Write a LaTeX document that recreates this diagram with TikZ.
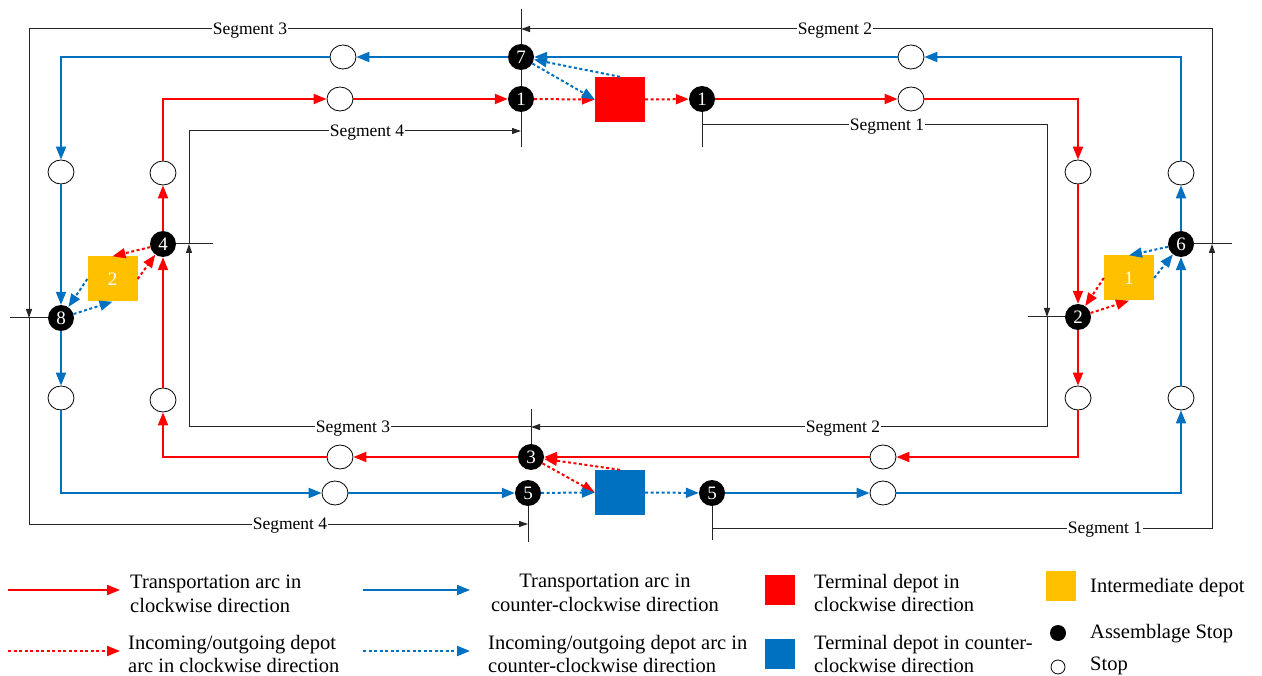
\documentclass[tikz,border=0pt]{standalone}
\usepackage{fontspec}
\setmainfont{Liberation Serif}
\usetikzlibrary{arrows.meta,shapes.geometric}
\definecolor{cwred}{RGB}{255,0,0}
\definecolor{ccwblue}{RGB}{0,112,192}
\definecolor{midyellow}{RGB}{255,192,0}

\begin{document}
\begin{tikzpicture}[x=1pt,y=-1pt,
  asm/.style={circle,fill=black,text=white,minimum size=26pt,inner sep=0pt,font=\fontsize{19}{19}\selectfont},
  stop/.style={ellipse,draw=black,fill=white,line width=0.8pt,minimum width=26pt,minimum height=24pt,inner sep=0pt},
  depot/.style={rectangle,minimum width=50pt,minimum height=45pt,inner sep=0pt,text=white,font=\fontsize{19}{19}\selectfont},
  segline/.style={draw=black!85,line width=1pt},
  segarrow/.style={segline,-{Triangle[length=9pt,width=6pt]}},
  seglabel/.style={fill=white,inner sep=1pt,font=\fontsize{17.5}{18}\selectfont,yshift=-1.5pt},
  redarc/.style={draw=cwred,line width=2pt,-{Triangle[length=13pt,width=10pt]}},
  bluearc/.style={draw=ccwblue,line width=2pt,-{Triangle[length=13pt,width=10pt]}},
  reddot/.style={redarc,dash pattern=on 3pt off 2.5pt},
  bluedot/.style={bluearc,dash pattern=on 3pt off 2.5pt},
  legtext/.style={font=\fontsize{20.5}{23.5}\selectfont,inner sep=0pt}
]
\useasboundingbox (0,0) rectangle (1262,676);
\fill[white] (0,0) rectangle (1262,676);

% ---------- segment boundary ticks ----------
\coordinate (tT1) at (521,9);   \coordinate (tT2) at (521,147);
\coordinate (tTr1) at (702,99); \coordinate (tTr2) at (702,147);
\coordinate (tB1) at (531,409); \coordinate (tB2) at (531,457);
\coordinate (tB3) at (528,493); \coordinate (tB4) at (528,542);
\coordinate (tBr1) at (712,493);\coordinate (tBr2) at (712,540);
\coordinate (tL1) at (10,318);  \coordinate (tL2) at (61,318);
\coordinate (tLi1) at (163,244);\coordinate (tLi2) at (213,244);
\coordinate (tRi1) at (1028,317);\coordinate (tRi2) at (1078,317);
\coordinate (tRo1) at (1181,244);\coordinate (tRo2) at (1232,244);
\draw[segline] (tT1) -- (tT2);
\draw[segline] (tTr1) -- (tTr2);
\draw[segline] (tB1) -- (tB2);
\draw[segline] (tB3) -- (tB4);
\draw[segline] (tBr1) -- (tBr2);
\draw[segline] (tL1) -- (tL2);
\draw[segline] (tLi1) -- (tLi2);
\draw[segline] (tRi1) -- (tRi2);
\draw[segline] (tRo1) -- (tRo2);

% ---------- outer segments (counter-clockwise ring) ----------
\coordinate (oR) at (1212,244);  \coordinate (oTR) at (1212,29);
\coordinate (oT) at (521,29);    \coordinate (oTL) at (29,29);
\coordinate (oL) at (29,318);    \coordinate (oBL) at (29,524);
\coordinate (oBm) at (528,524);  \coordinate (oBs) at (712,528);
\coordinate (oBR) at (1212,528);
\draw[segarrow] (oR) -- (oTR) -- (oT);
\draw[segarrow] (oT) -- (oTL) -- (oL);
\draw[segarrow] (oL) -- (oBL) -- (oBm);
\draw[segarrow] (oBs) -- (oBR) -- (oR);
\node[seglabel] (lo2) at (835,29) {Segment 2};
\node[seglabel] (lo3) at (250,29) {Segment 3};
\node[seglabel] (lo4) at (290,524) {Segment 4};
\node[seglabel] (lo1) at (1105,528) {Segment 1};

% ---------- inner segments (clockwise ring) ----------
\coordinate (iTs) at (702,125);  \coordinate (iTR) at (1047,125);
\coordinate (iR) at (1047,317);  \coordinate (iBR) at (1047,427);
\coordinate (iB) at (531,427);   \coordinate (iBL) at (189,427);
\coordinate (iL) at (189,244);   \coordinate (iTL) at (189,131);
\coordinate (iT) at (521,131);
\draw[segarrow] (iTs) -- (iTR) -- (iR);
\draw[segarrow] (iR) -- (iBR) -- (iB);
\draw[segarrow] (iB) -- (iBL) -- (iL);
\draw[segarrow] (iL) -- (iTL) -- (iT);
\node[seglabel] (li1) at (887,125) {Segment 1};
\node[seglabel] (li2) at (843,427) {Segment 2};
\node[seglabel] (li3) at (353,427) {Segment 3};
\node[seglabel] (li4) at (367,131) {Segment 4};

% ---------- depots ----------
\node[depot,fill=cwred] (Dred) at (620,99.5) {};
\node[depot,fill=ccwblue] (Dblue) at (620,492.5) {};
\node[depot,fill=midyellow] (Y2) at (112.5,279) {2};
\node[depot,fill=midyellow] (Y1) at (1129,278) {1};

% ---------- assemblage stops ----------
\node[asm] (A1) at (521,99) {1};
\node[asm] (A1r) at (702,99) {1};
\node[asm] (A7) at (521,57) {7};
\node[asm] (A4) at (163,244) {4};
\node[asm] (A8) at (61,318) {8};
\node[asm] (A2) at (1078,317) {2};
\node[asm] (A6) at (1181,244) {6};
\node[asm] (A3) at (531,457) {3};
\node[asm] (A5) at (528,493) {5};
\node[asm] (A5r) at (712,493) {5};

% ---------- ordinary stops ----------
\node[stop] (sTb1) at (343,57) {};
\node[stop] (sTb2) at (911,57) {};
\node[stop] (sTr1) at (340,99) {};
\node[stop] (sTr2) at (911,99) {};
\node[stop] (sLb1) at (61,172) {};
\node[stop] (sLb2) at (61,398) {};
\node[stop] (sLr1) at (163,173) {};
\node[stop] (sLr2) at (163,400) {};
\node[stop] (sRr1) at (1078,172) {};
\node[stop] (sRr2) at (1078,398) {};
\node[stop] (sRb1) at (1181,173) {};
\node[stop] (sRb2) at (1181,398) {};
\node[stop] (sBr1) at (340,457) {};
\node[stop] (sBr2) at (883,457) {};
\node[stop] (sBb1) at (335,493) {};
\node[stop] (sBb2) at (883,493) {};

% ---------- clockwise transportation arcs ----------
\draw[redarc] (A1r) -- (sTr2);
\draw[redarc] (sTr2) -| (sRr1);
\draw[redarc] (sRr1) -- (A2);
\draw[redarc] (A2) -- (sRr2);
\draw[redarc] (sRr2) |- (sBr2);
\draw[redarc] (sBr2) -- (A3);
\draw[redarc] (A3) -- (sBr1);
\draw[redarc] (sBr1) -| (sLr2);
\draw[redarc] (sLr2) -- (A4);
\draw[redarc] (A4) -- (sLr1);
\draw[redarc] (sLr1) |- (sTr1);
\draw[redarc] (sTr1) -- (A1);

% ---------- clockwise depot arcs ----------
\draw[reddot] (A1) -- (Dred.west);
\draw[reddot] (Dred.east) -- (A1r);
\draw[reddot] (A3) -- (Dblue.west);
\draw[reddot] (Dblue.north) -- (A3);
\draw[reddot] (A4) -- (Y2.north);
\draw[reddot] (Y2.east) -- (A4);
\draw[reddot] (Y1.west) -- (A2);
\draw[reddot] (A2) -- (Y1.south);

% ---------- counter-clockwise transportation arcs ----------
\draw[bluearc] (A6) -- (sRb1);
\draw[bluearc] (sRb1) |- (sTb2);
\draw[bluearc] (sTb2) -- (A7);
\draw[bluearc] (A7) -- (sTb1);
\draw[bluearc] (sTb1) -| (sLb1);
\draw[bluearc] (sLb1) -- (A8);
\draw[bluearc] (A8) -- (sLb2);
\draw[bluearc] (sLb2) |- (sBb1);
\draw[bluearc] (sBb1) -- (A5);
\draw[bluearc] (A5r) -- (sBb2);
\draw[bluearc] (sBb2) -| (sRb2);
\draw[bluearc] (sRb2) -- (A6);

% ---------- counter-clockwise depot arcs ----------
\draw[bluedot] (A7) -- (Dred.west);
\draw[bluedot] (Dred.north) -- (A7);
\draw[bluedot] (A5) -- (Dblue.west);
\draw[bluedot] (Dblue.east) -- (A5r);
\draw[bluedot] (Y2.west) -- (A8);
\draw[bluedot] (A8) -- (Y2.south);
\draw[bluedot] (A6) -- (Y1.north);
\draw[bluedot] (Y1.east) -- (A6);

% ---------- legend ----------
\coordinate (L1a) at (8,590);   \coordinate (L1b) at (120,590);
\coordinate (L2a) at (363,590); \coordinate (L2b) at (470,590);
\coordinate (L3a) at (8,651);   \coordinate (L3b) at (120,651);
\coordinate (L4a) at (363,651); \coordinate (L4b) at (470,651);
\draw[redarc] (L1a) -- (L1b);
\draw[bluearc] (L2a) -- (L2b);
\draw[reddot] (L3a) -- (L3b);
\draw[bluedot] (L4a) -- (L4b);
\node[legtext,anchor=west,align=left] (T1) at (130,594) {Transportation arc in\\clockwise direction};
\node[legtext,align=center] (T2) at (605,593) {Transportation arc in\\counter-clockwise direction};
\node[legtext,anchor=west,align=left] (T3) at (128,654) {Incoming/outgoing depot\\arc in clockwise direction};
\node[legtext,anchor=west,align=left] (T4) at (488,654) {Incoming/outgoing depot arc in\\counter-clockwise direction};

\node[fill=cwred,minimum size=30pt,inner sep=0pt] (Kred) at (780,590) {};
\node[fill=ccwblue,minimum size=30pt,inner sep=0pt] (Kblue) at (780,654) {};
\node[legtext,anchor=west,align=left] (T5) at (814,593) {Terminal depot in\\clockwise direction};
\node[legtext,anchor=west,align=left] (T6) at (814,654) {Terminal depot in counter-\\clockwise direction};

\node[fill=midyellow,minimum size=30pt,inner sep=0pt] (Kyel) at (1061,586) {};
\node[circle,fill=black,minimum size=16pt,inner sep=0pt] (Kasm) at (1058,633) {};
\node[circle,draw=black,line width=0.8pt,fill=white,minimum size=14pt,inner sep=0pt] (Kstop) at (1058,667) {};
\node[legtext,anchor=west] (T7) at (1090,588) {Intermediate depot};
\node[legtext,anchor=west] (T8) at (1090,634) {Assemblage Stop};
\node[legtext,anchor=west] (T9) at (1090,666) {Stop};
\end{tikzpicture}
\end{document}
